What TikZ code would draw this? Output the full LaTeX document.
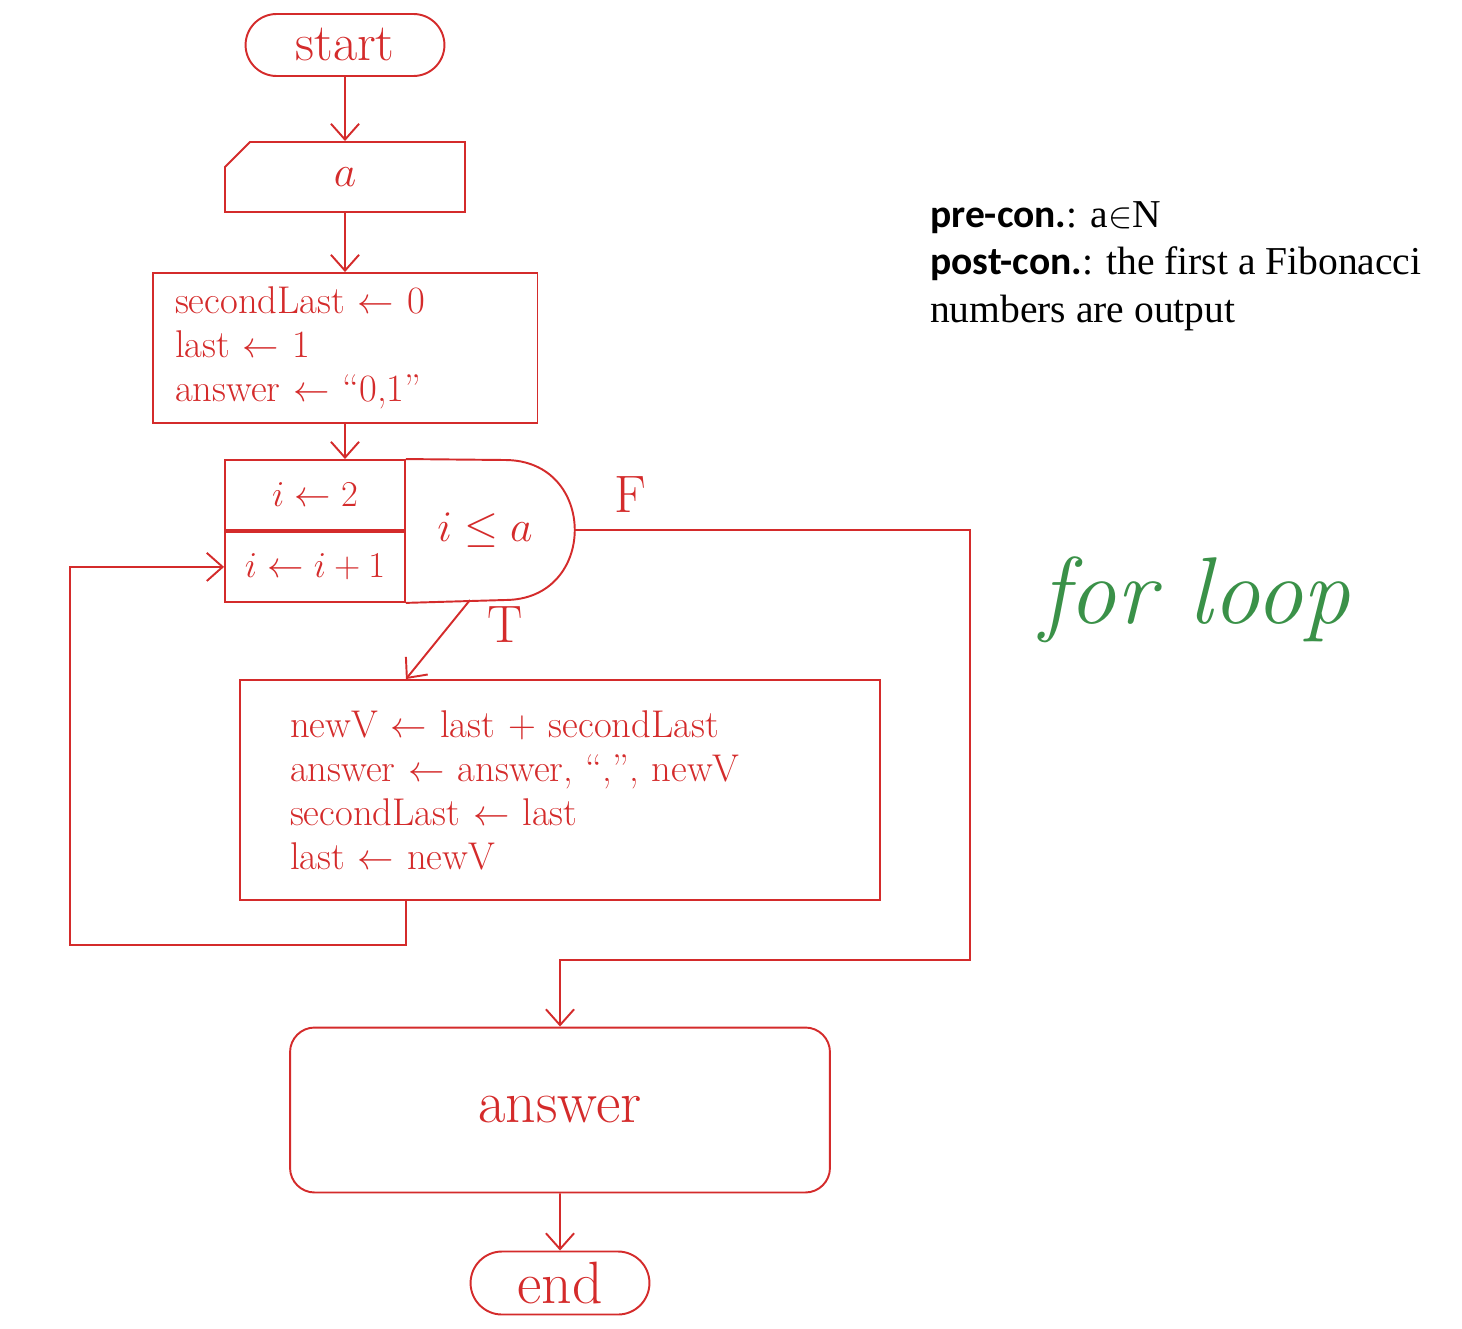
\documentclass[tikz,border=0pt]{standalone}
\usepackage{fontspec}
\newfontfamily\labelfont{Carlito}
\newfontfamily\notefont{Liberation Serif}
\usetikzlibrary{shapes.misc,arrows.meta}

\definecolor{inkred}{RGB}{212,43,43}
\definecolor{inkgreen}{RGB}{58,145,72}

\tikzset{
  flowbox/.style={draw=inkred, line width=1.1pt, text=inkred, align=left,
    font=\fontsize{22}{25}\selectfont, inner sep=6pt},
  termbox/.style={flowbox, rounded rectangle, font=\fontsize{30}{32}\selectfont},
  flowline/.style={draw=inkred, line width=1.1pt},
  flowarrow/.style={flowline, -{Straight Barb[length=9pt,width=16pt]}},
  flowlabel/.style={text=inkred, font=\fontsize{30}{32}\selectfont},
}

\begin{document}
\begin{tikzpicture}[x=0.02cm, y=-0.02cm]

  \useasboundingbox (0,0) rectangle (1462,1328);

  % start and input
  \node[termbox, minimum width=4.4cm, minimum height=1.24cm] (start) at (345,45) {start};
  \node[flowbox, chamfered rectangle, chamfered rectangle corners=north west,
    chamfered rectangle xsep=0.5cm, minimum width=4.8cm, minimum height=1.4cm,
    font=\fontsize{30}{32}\selectfont] (input) at (345,177) {$a$};

  % initialisation
  \node[flowbox, inner xsep=0.45cm, text width=6.8cm, minimum height=3cm] (init) at (345,348)
    {secondLast $\leftarrow$ 0\\ last $\leftarrow$ 1\\ answer $\leftarrow$ ``0,1''};

  % for loop header
  \node[flowbox, minimum width=3.6cm, minimum height=1.4cm] (loopinit) at (315,495) {$i \leftarrow 2$};
  \node[flowbox, minimum width=3.6cm, minimum height=1.4cm, anchor=north] (loopstep)
    at (loopinit.south) {$i \leftarrow i+1$};
  \draw[flowline] (loopinit.north east) -- (505,460) .. controls (598,460) and (598,600) .. (505,600)
    -- (loopstep.south east);
  \node[flowlabel] (cond) at (485,530) {$i \leq a$};
  \coordinate (tip) at (575,530);
  \coordinate (condbot) at (470,600);

  % loop body
  \node[flowbox, inner xsep=1cm, text width=10.8cm, minimum height=4.4cm] (body) at (560,790)
    {newV $\leftarrow$ last + secondLast\\ answer $\leftarrow$ answer, ``,'', newV\\
     secondLast $\leftarrow$ last\\ last $\leftarrow$ newV};

  % output and end
  \node[flowbox, rounded corners=14pt, minimum width=10.8cm, minimum height=3.3cm,
    font=\fontsize{34}{36}\selectfont] (output) at (560,1110) {answer};
  \node[termbox, minimum width=4cm, minimum height=1.2cm, font=\fontsize{34}{36}\selectfont]
    (end) at (560,1283) {end};

  % connectors
  \coordinate (backcorner) at (70,945);
  \coordinate (fcorner) at (970,960);
  \draw[flowarrow] (start) -- (input);
  \draw[flowarrow] (input) -- (init);
  \draw[flowarrow] (init.south) -- (init.south |- loopinit.north);
  \draw[flowarrow] (condbot) -- (body.north -| loopinit.east);
  \node[flowlabel] (tlabel) at (505,625) {T};
  \draw[flowarrow] (tip) -| (fcorner) -| (output.north);
  \node[flowlabel] (flabel) at (630,495) {F};
  \draw[flowarrow] (body.south -| loopstep.east) |- (backcorner) |- (loopstep.west);
  \draw[flowarrow] (output) -- (end);

  % conditions and note
  \node[anchor=west, align=left, font=\notefont\fontsize{22.5}{27}\selectfont] (notes) at (924,266)
    {{\labelfont\bfseries pre-con.}: a$\in$N\\
     {\labelfont\bfseries post-con.}: the first a Fibonacci\\
     numbers are output};
  \node[text=inkgreen, font=\itshape\fontsize{54}{56}\selectfont] (forloop) at (1195,600) {for loop};

\end{tikzpicture}
\end{document}
